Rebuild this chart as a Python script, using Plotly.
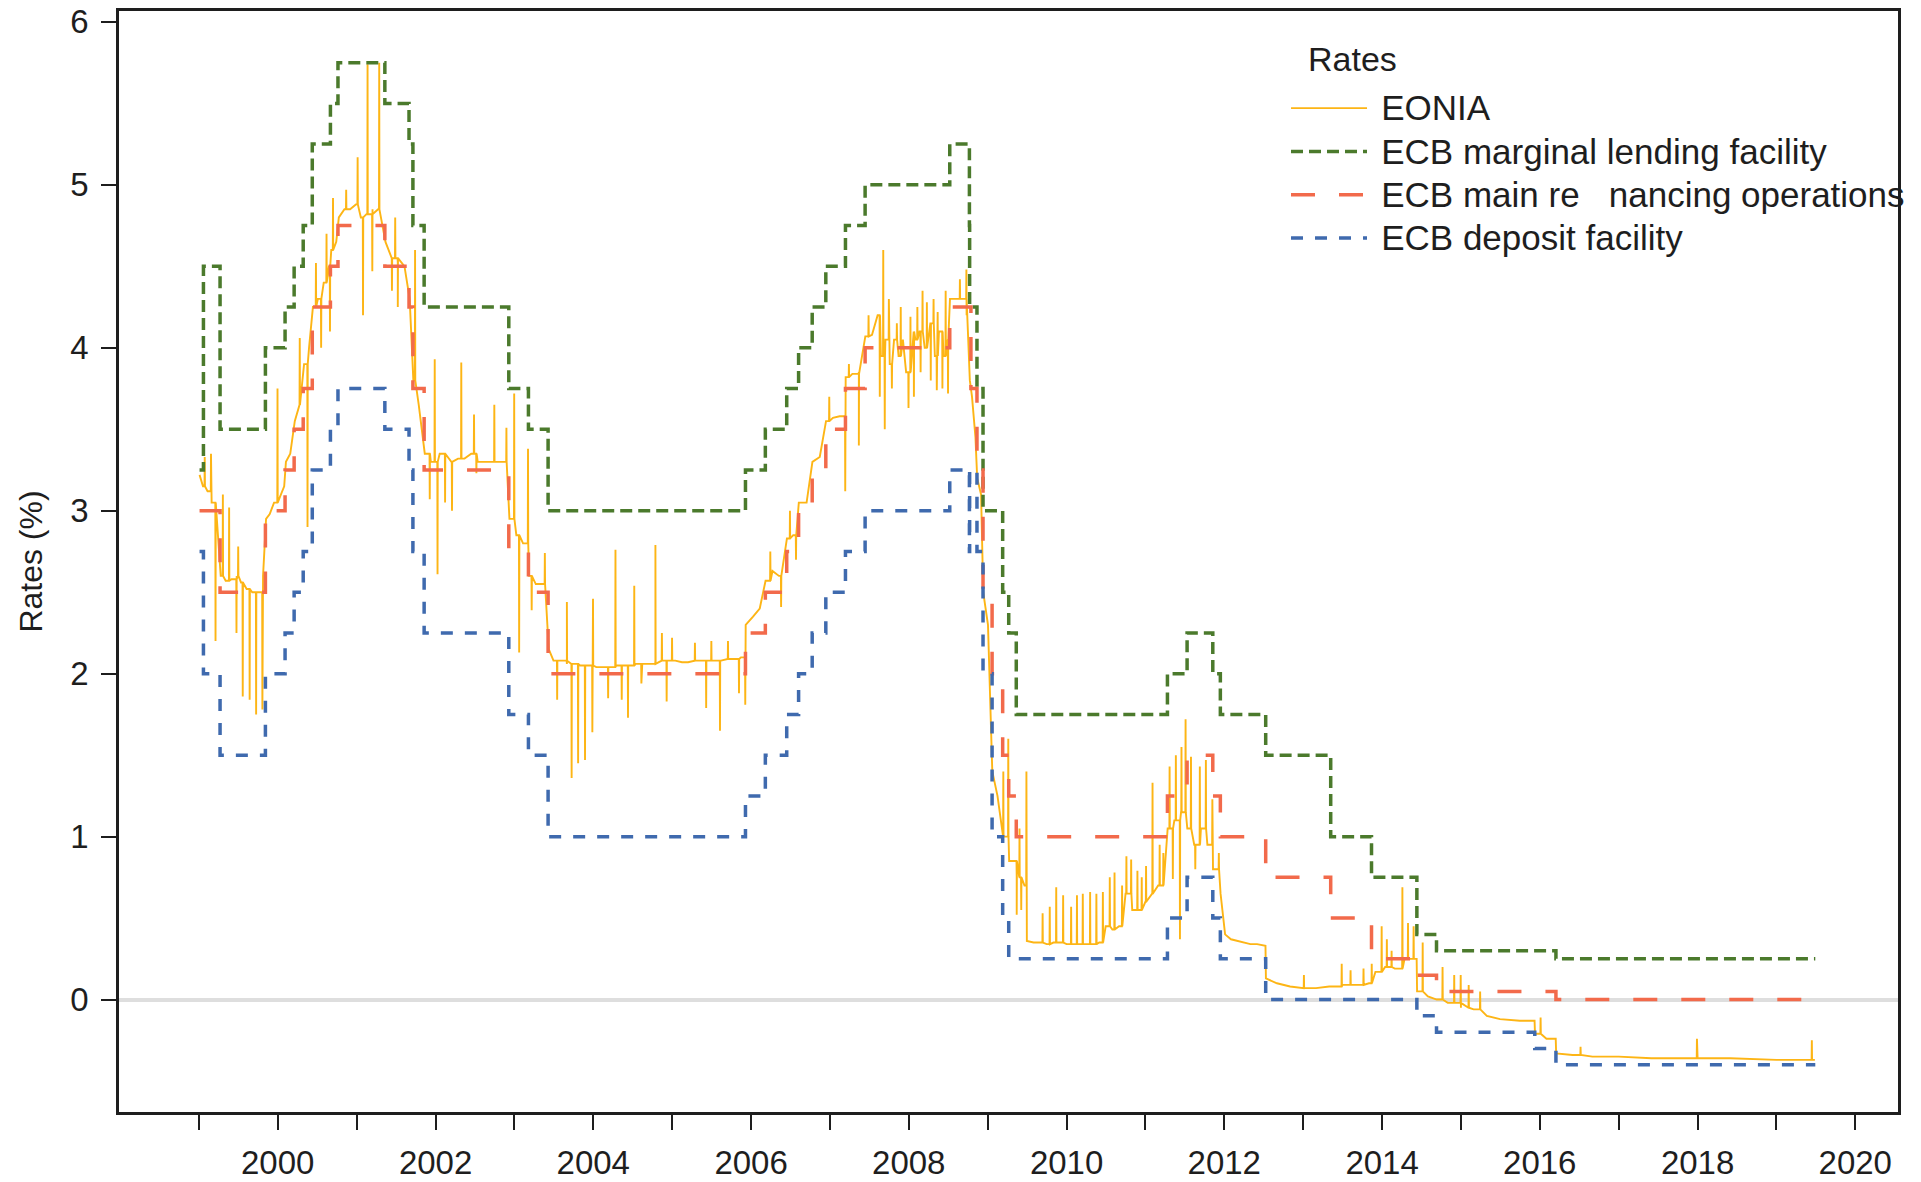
import pandas as pd
import plotly.graph_objects as go

# ECB policy rates: dates on which a new level took effect (last entry closes the series)
policy_dates = [
    "1999-01-04", "1999-01-22", "1999-04-09", "1999-11-05", "2000-02-04", "2000-03-17",
    "2000-04-28", "2000-06-09", "2000-09-01", "2000-10-06", "2001-05-11", "2001-08-31",
    "2001-09-18", "2001-11-09", "2002-12-06", "2003-03-07", "2003-06-06", "2005-12-06",
    "2006-03-08", "2006-06-15", "2006-08-09", "2006-10-11", "2006-12-13", "2007-03-14",
    "2007-06-13", "2008-07-09", "2008-10-08", "2008-10-09", "2008-10-15", "2008-11-12",
    "2008-12-10", "2009-01-21", "2009-03-11", "2009-04-08", "2009-05-13", "2011-04-13",
    "2011-07-13", "2011-11-09", "2011-12-14", "2012-07-11", "2013-05-08", "2013-11-13",
    "2014-06-11", "2014-09-10", "2015-12-09", "2016-03-16", "2019-06-30",
]
marginal_lending = [
    3.25, 4.50, 3.50, 4.00, 4.25, 4.50, 4.75, 5.25, 5.50, 5.75, 5.50, 5.25,
    4.75, 4.25, 3.75, 3.50, 3.00, 3.25, 3.50, 3.75, 4.00, 4.25, 4.50, 4.75,
    5.00, 5.25, 4.75, 4.25, 4.25, 3.75, 3.00, 3.00, 2.50, 2.25, 1.75, 2.00,
    2.25, 2.00, 1.75, 1.50, 1.00, 0.75, 0.40, 0.30, 0.30, 0.25, 0.25,
]
main_refinancing = [
    3.00, 3.00, 2.50, 3.00, 3.25, 3.50, 3.75, 4.25, 4.50, 4.75, 4.50, 4.25,
    3.75, 3.25, 2.75, 2.50, 2.00, 2.25, 2.50, 2.75, 3.00, 3.25, 3.50, 3.75,
    4.00, 4.25, 4.25, 4.25, 3.75, 3.25, 2.50, 2.00, 1.50, 1.25, 1.00, 1.25,
    1.50, 1.25, 1.00, 0.75, 0.50, 0.25, 0.15, 0.05, 0.05, 0.00, 0.00,
]
deposit_facility = [
    2.75, 2.00, 1.50, 2.00, 2.25, 2.50, 2.75, 3.25, 3.50, 3.75, 3.50, 3.25,
    2.75, 2.25, 1.75, 1.50, 1.00, 1.25, 1.50, 1.75, 2.00, 2.25, 2.50, 2.75,
    3.00, 3.25, 2.75, 3.25, 3.25, 2.75, 2.00, 1.00, 0.50, 0.25, 0.25, 0.50,
    0.75, 0.50, 0.25, 0.00, 0.00, 0.00, -0.10, -0.20, -0.30, -0.40, -0.40,
]

# EONIA: underlying level through time
eonia_base_dates = [
    "1999-01-04", "1999-01-20", "1999-02-10", "1999-03-01", "1999-03-25", "1999-04-12",
    "1999-05-05", "1999-06-01", "1999-06-25", "1999-07-15", "1999-08-10", "1999-09-05",
    "1999-10-01", "1999-10-25", "1999-11-08", "1999-11-25", "1999-12-15", "2000-01-10",
    "2000-01-31", "2000-02-08", "2000-02-28", "2000-03-20", "2000-04-10", "2000-05-02",
    "2000-05-25", "2000-06-12", "2000-07-05", "2000-08-01", "2000-08-25", "2000-09-05",
    "2000-09-28", "2000-10-10", "2000-11-05", "2000-12-01", "2000-12-28", "2001-01-20",
    "2001-02-15", "2001-03-15", "2001-04-10", "2001-05-14", "2001-06-10", "2001-07-10",
    "2001-08-10", "2001-09-03", "2001-09-20", "2001-10-15", "2001-11-12", "2001-12-10",
    "2002-01-20", "2002-02-15", "2002-03-15", "2002-04-15", "2002-05-15", "2002-06-15",
    "2002-07-15", "2002-08-15", "2002-09-15", "2002-10-15", "2002-11-15", "2002-12-09",
    "2003-01-10", "2003-02-10", "2003-03-10", "2003-04-10", "2003-05-10", "2003-06-09",
    "2003-07-01", "2003-08-01", "2003-09-01", "2003-10-01", "2003-11-01", "2003-12-01",
    "2004-01-15", "2004-02-15", "2004-03-15", "2004-04-15", "2004-05-15", "2004-06-15",
    "2004-07-15", "2004-08-15", "2004-09-15", "2004-10-15", "2004-11-15", "2004-12-15",
    "2005-01-15", "2005-02-15", "2005-03-15", "2005-04-15", "2005-05-15", "2005-06-15",
    "2005-07-15", "2005-08-15", "2005-09-15", "2005-10-15", "2005-11-15", "2005-12-07",
    "2006-01-10", "2006-02-10", "2006-03-09", "2006-04-10", "2006-05-10", "2006-06-16",
    "2006-07-15", "2006-08-10", "2006-09-15", "2006-10-12", "2006-11-15", "2006-12-14",
    "2007-01-15", "2007-02-15", "2007-03-15", "2007-04-15", "2007-05-15", "2007-06-14",
    "2007-07-15", "2007-08-10", "2007-08-25", "2007-09-15", "2007-10-05", "2007-10-25",
    "2007-11-15", "2007-12-05", "2007-12-20", "2008-01-10", "2008-02-01", "2008-02-20",
    "2008-03-15", "2008-04-10", "2008-05-01", "2008-05-20", "2008-06-10", "2008-06-30",
    "2008-07-10", "2008-08-10", "2008-09-05", "2008-09-25", "2008-10-10", "2008-10-20",
    "2008-11-05", "2008-11-13", "2008-12-01", "2008-12-11", "2009-01-02", "2009-01-22",
    "2009-02-15", "2009-03-12", "2009-04-10", "2009-05-15", "2009-06-20", "2009-07-01",
    "2009-08-01", "2009-09-01", "2009-10-01", "2009-11-01", "2009-12-01", "2010-01-01",
    "2010-02-01", "2010-03-01", "2010-04-01", "2010-05-01", "2010-06-01", "2010-07-01",
    "2010-08-01", "2010-09-01", "2010-10-01", "2010-11-01", "2010-12-01", "2011-01-01",
    "2011-02-01", "2011-03-01", "2011-04-14", "2011-05-15", "2011-06-15", "2011-07-14",
    "2011-08-15", "2011-09-15", "2011-10-15", "2011-11-10", "2011-12-15", "2012-01-05",
    "2012-02-01", "2012-03-01", "2012-04-01", "2012-05-01", "2012-06-01", "2012-07-10",
    "2012-07-12", "2012-09-01", "2012-11-01", "2013-01-01", "2013-03-01", "2013-05-01",
    "2013-07-01", "2013-09-01", "2013-11-01", "2013-12-01", "2014-01-15", "2014-03-01",
    "2014-04-15", "2014-06-10", "2014-06-12", "2014-08-01", "2014-09-11", "2014-11-01",
    "2015-01-01", "2015-03-01", "2015-05-01", "2015-07-01", "2015-10-01", "2015-12-08",
    "2015-12-10", "2016-02-01", "2016-03-15", "2016-03-17", "2016-06-01", "2016-09-01",
    "2017-01-01", "2017-06-01", "2018-01-01", "2018-06-01", "2019-01-01", "2019-06-28",
]
eonia_base_values = [
    3.22, 3.15, 3.12, 3.05, 2.95, 2.60,
    2.57, 2.58, 2.60, 2.56, 2.52, 2.50,
    2.50, 2.60, 2.95, 2.98, 3.05, 3.08,
    3.15, 3.30, 3.35, 3.55, 3.65, 3.90,
    4.00, 4.25, 4.30, 4.40, 4.50, 4.60,
    4.65, 4.80, 4.85, 4.85, 4.88, 4.80,
    4.82, 4.85, 4.85, 4.65, 4.55, 4.52,
    4.50, 4.30, 3.80, 3.65, 3.35, 3.30,
    3.35, 3.30, 3.30, 3.32, 3.32, 3.35,
    3.30, 3.30, 3.30, 3.30, 3.30, 2.95,
    2.85, 2.80, 2.60, 2.55, 2.55, 2.15,
    2.08, 2.08, 2.06, 2.06, 2.05, 2.05,
    2.04, 2.04, 2.04, 2.05, 2.05, 2.05,
    2.06, 2.06, 2.06, 2.08, 2.08, 2.08,
    2.08, 2.07, 2.07, 2.08, 2.08, 2.08,
    2.08, 2.08, 2.09, 2.09, 2.10, 2.30,
    2.35, 2.40, 2.57, 2.63, 2.60, 2.83,
    2.85, 3.05, 3.05, 3.30, 3.33, 3.55,
    3.57, 3.58, 3.82, 3.84, 3.85, 4.07,
    4.08, 4.20, 3.95, 4.05, 3.90, 4.05,
    3.95, 4.05, 3.85, 4.10, 4.05, 4.10,
    4.00, 4.15, 3.95, 4.10, 3.95, 4.05,
    4.30, 4.30, 4.30, 4.20, 3.80, 3.70,
    3.45, 3.20, 3.10, 2.50, 2.30, 1.40,
    1.25, 1.00, 0.85, 0.75, 0.70, 0.36,
    0.35, 0.35, 0.34, 0.35, 0.35, 0.34,
    0.34, 0.34, 0.34, 0.34, 0.35, 0.45,
    0.43, 0.45, 0.65, 0.55, 0.55, 0.60,
    0.65, 0.70, 1.05, 1.10, 1.15, 1.05,
    0.95, 1.05, 0.95, 0.80, 0.65, 0.40,
    0.37, 0.36, 0.35, 0.34, 0.34, 0.33,
    0.13, 0.10, 0.08, 0.07, 0.07, 0.08,
    0.09, 0.09, 0.10, 0.17, 0.20, 0.19,
    0.25, 0.25, 0.05, 0.02, 0.00, -0.02,
    -0.05, -0.06, -0.10, -0.12, -0.13, -0.13,
    -0.21, -0.24, -0.24, -0.33, -0.34, -0.35,
    -0.35, -0.36, -0.36, -0.36, -0.37, -0.37,
]

# EONIA: single-day spikes (end of maintenance periods, year ends)
eonia_spike_dates = [
    "1999-01-28", "1999-02-26", "1999-03-19", "1999-04-22", "1999-05-21", "1999-06-24",
    "1999-07-02", "1999-07-23", "1999-08-24", "1999-09-23", "1999-10-22", "1999-12-31",
    "2000-04-12", "2000-05-18", "2000-06-26", "2000-07-20", "2000-08-14", "2000-08-30",
    "2000-09-13", "2000-11-13", "2001-01-05", "2001-01-30", "2001-02-20", "2001-03-14",
    "2001-04-15", "2001-06-13", "2001-06-28", "2001-07-10", "2001-09-28", "2001-12-05",
    "2001-12-28", "2002-01-10", "2002-02-14", "2002-03-18", "2002-04-30", "2002-06-28",
    "2002-07-09", "2002-09-30", "2002-11-25", "2002-12-31", "2003-01-23", "2003-03-05",
    "2003-03-22", "2003-05-22", "2003-07-18", "2003-09-01", "2003-09-23", "2003-10-23",
    "2003-11-24", "2003-12-28", "2003-12-31", "2004-03-10", "2004-04-13", "2004-05-12",
    "2004-06-10", "2004-07-09", "2004-08-11", "2004-10-15", "2004-11-14", "2004-12-06",
    "2004-12-31", "2005-04-16", "2005-06-07", "2005-07-01", "2005-08-10", "2005-09-16",
    "2005-11-06", "2005-12-05", "2006-03-31", "2006-05-20", "2006-06-30", "2006-07-28",
    "2006-12-29", "2007-03-13", "2007-03-30", "2007-05-15", "2007-06-29", "2007-08-20",
    "2007-09-05", "2007-09-12", "2007-10-01", "2007-10-15", "2007-11-07", "2007-11-25",
    "2007-12-31", "2008-01-09", "2008-01-25", "2008-02-10", "2008-02-25", "2008-03-05",
    "2008-03-25", "2008-04-12", "2008-04-25", "2008-05-10", "2008-05-14", "2008-06-05",
    "2008-06-20", "2008-07-01", "2008-08-25", "2008-09-24",
    "2009-03-14", "2009-04-06", "2009-05-15", "2009-05-28", "2009-06-05", "2009-06-29",
    "2009-09-12", "2009-10-15", "2009-11-14", "2009-12-16", "2010-01-22", "2010-02-18",
    "2010-03-17", "2010-04-20", "2010-05-19", "2010-06-18", "2010-07-20", "2010-08-11",
    "2010-09-15", "2010-10-05", "2010-10-27", "2010-11-25", "2010-12-15", "2011-01-04",
    "2011-02-03", "2011-03-08", "2011-03-25", "2011-04-23", "2011-05-08", "2011-05-22",
    "2011-06-10", "2011-06-17", "2011-07-06", "2011-07-31", "2011-08-20", "2011-09-10",
    "2011-10-08", "2011-11-07", "2011-12-07", "2013-01-04", "2013-06-28", "2013-08-08",
    "2013-10-07", "2013-11-14", "2013-12-30", "2014-01-23", "2014-02-14", "2014-04-05",
    "2014-05-01", "2014-05-27", "2014-07-08", "2014-10-08", "2014-12-01", "2014-12-31",
    "2015-02-06", "2015-03-31", "2016-01-05", "2016-07-08", "2017-12-29", "2019-06-14",
]
eonia_spike_values = [
    3.33, 3.35, 2.20, 3.10, 3.02, 2.25,
    2.78, 1.86, 1.84, 1.75, 1.78, 3.75,
    4.06, 2.90, 4.52, 4.00, 4.70, 4.10,
    4.92, 4.97, 5.17, 4.20, 5.74, 4.47,
    5.75, 4.35, 4.80, 4.25, 4.60, 3.07,
    3.93, 2.61, 3.05, 3.00, 3.91, 3.59,
    3.23, 3.65, 3.51, 3.72, 2.13, 3.38,
    2.39, 2.74, 1.84, 2.44, 1.36, 1.45,
    1.47, 1.64, 2.46, 1.85, 2.76, 1.84,
    1.73, 2.54, 1.94, 2.79, 2.25, 1.83,
    2.22, 2.19, 1.79, 2.20, 1.65, 2.20,
    1.88, 1.81, 2.75, 2.41, 3.00, 2.70,
    3.70, 3.12, 3.90, 3.40, 4.20, 3.70,
    4.60, 3.50, 4.30, 3.75, 4.15, 4.25,
    3.63, 4.19, 3.70, 4.25, 3.85, 4.35,
    4.28, 3.80, 4.30, 3.74, 4.22, 3.75,
    4.35, 3.72, 4.42, 4.48,
    1.40, 1.60, 0.52, 1.05, 0.55, 1.40,
    0.53, 0.57, 0.69, 0.64, 0.57, 0.64,
    0.65, 0.66, 0.65, 0.66, 0.75, 0.78,
    0.70, 0.88, 0.86, 0.79, 0.75, 0.82,
    1.33, 0.95, 0.90, 1.43, 0.74, 1.50,
    0.37, 1.55, 1.72, 1.49, 0.80, 1.43,
    1.47, 1.23, 0.90, 0.15, 0.22, 0.18,
    0.19, 0.22, 0.45, 0.37, 0.30, 0.69,
    0.47, 0.45, 0.35, 0.20, 0.15, 0.15,
    0.09, 0.05, -0.11, -0.29, -0.24, -0.25,
]

# Tick marks every year, labels on even years
tick_years = list(range(1999, 2021))
tick_dates = [f"{y}-01-01" for y in tick_years]
tick_labels = [str(y) if y % 2 == 0 else "" for y in tick_years]

legend_title = "Rates"
series_names = [
    "EONIA",
    "ECB marginal lending facility",
    "ECB main re\u00a0\u00a0\u00a0nancing operations",
    "ECB deposit facility",
]


def legend_label(text):
    # small lead-in gap after the line sample, then the label at full size
    return ('<span style="font-size:33px">\u00a0</span>'
            f'<span style="font-size:35px">{text}</span>')


# Assemble the EONIA path: each spike rises from the level in force just before it
base_pts = sorted(zip(pd.to_datetime(eonia_base_dates), eonia_base_values))
one_day = pd.Timedelta(days=1)
eonia_pts = list(base_pts)
for d, v in zip(pd.to_datetime(eonia_spike_dates), eonia_spike_values):
    before = [bv for bd, bv in base_pts if bd < d]
    level = before[-1] if before else base_pts[0][1]
    eonia_pts += [(d - one_day, level), (d, v), (d + one_day, level)]
eonia_pts.sort(key=lambda p: p[0])
eonia_x = [p[0] for p in eonia_pts]
eonia_y = [p[1] for p in eonia_pts]

FONT = "Liberation Sans, Arial, Helvetica, sans-serif"
INK = "#1e1e1e"

fig = go.Figure()
fig.add_trace(go.Scatter(
    x=eonia_x, y=eonia_y, mode="lines", name=legend_label(series_names[0]),
    line=dict(color="#FDB515", width=1.9),
))
fig.add_trace(go.Scatter(
    x=pd.to_datetime(policy_dates), y=marginal_lending, mode="lines",
    name=legend_label(series_names[1]),
    line=dict(color="#4B7A2C", width=3.5, dash="12px,6px", shape="hv"),
))
fig.add_trace(go.Scatter(
    x=pd.to_datetime(policy_dates), y=main_refinancing, mode="lines",
    name=legend_label(series_names[2]),
    line=dict(color="#F26A4B", width=3.5, dash="24px,24px", shape="hv"),
))
fig.add_trace(go.Scatter(
    x=pd.to_datetime(policy_dates), y=deposit_facility, mode="lines",
    name=legend_label(series_names[3]),
    line=dict(color="#3F6AAE", width=3.5, dash="12px,12px", shape="hv"),
))

fig.update_layout(
    width=1921, height=1182,
    margin=dict(l=119, r=16, t=11, b=70),
    plot_bgcolor="white", paper_bgcolor="white",
    font=dict(family=FONT, size=32, color=INK),
    showlegend=True,
    legend=dict(
        font=dict(size=31, color=INK),
        x=0.656, y=0.936, xanchor="left", yanchor="top",
        bgcolor="rgba(0,0,0,0)", borderwidth=0,
        itemwidth=76, tracegroupgap=0,
    ),
    annotations=[dict(
        text=legend_title, xref="paper", yref="paper",
        x=0.6674, y=0.9564, xanchor="left", yanchor="middle",
        showarrow=False, font=dict(size=34, color=INK),
    )],
)
fig.update_xaxes(
    type="date", range=["1997-12-27", "2020-07-17"],
    tickmode="array", tickvals=tick_dates, ticktext=tick_labels,
    ticks="outside", ticklen=15, tickwidth=2, tickcolor=INK,
    tickfont=dict(size=33, color=INK), ticklabelstandoff=5,
    showline=True, linewidth=2.5, linecolor=INK, mirror=True,
    showgrid=False, zeroline=False, automargin=False,
)
fig.update_yaxes(
    range=[-0.69, 6.067],
    tickmode="array", tickvals=[0, 1, 2, 3, 4, 5, 6],
    ticks="outside", ticklen=15, tickwidth=2, tickcolor=INK,
    tickfont=dict(size=33, color=INK), ticklabelstandoff=6,
    showline=True, linewidth=2.5, linecolor=INK, mirror=True,
    showgrid=False, automargin=False,
    zeroline=True, zerolinecolor="#DEDEDE", zerolinewidth=4,
    title=dict(text="Rates (%)", font=dict(size=32, color=INK), standoff=19),
)

fig.write_html("out.html")
